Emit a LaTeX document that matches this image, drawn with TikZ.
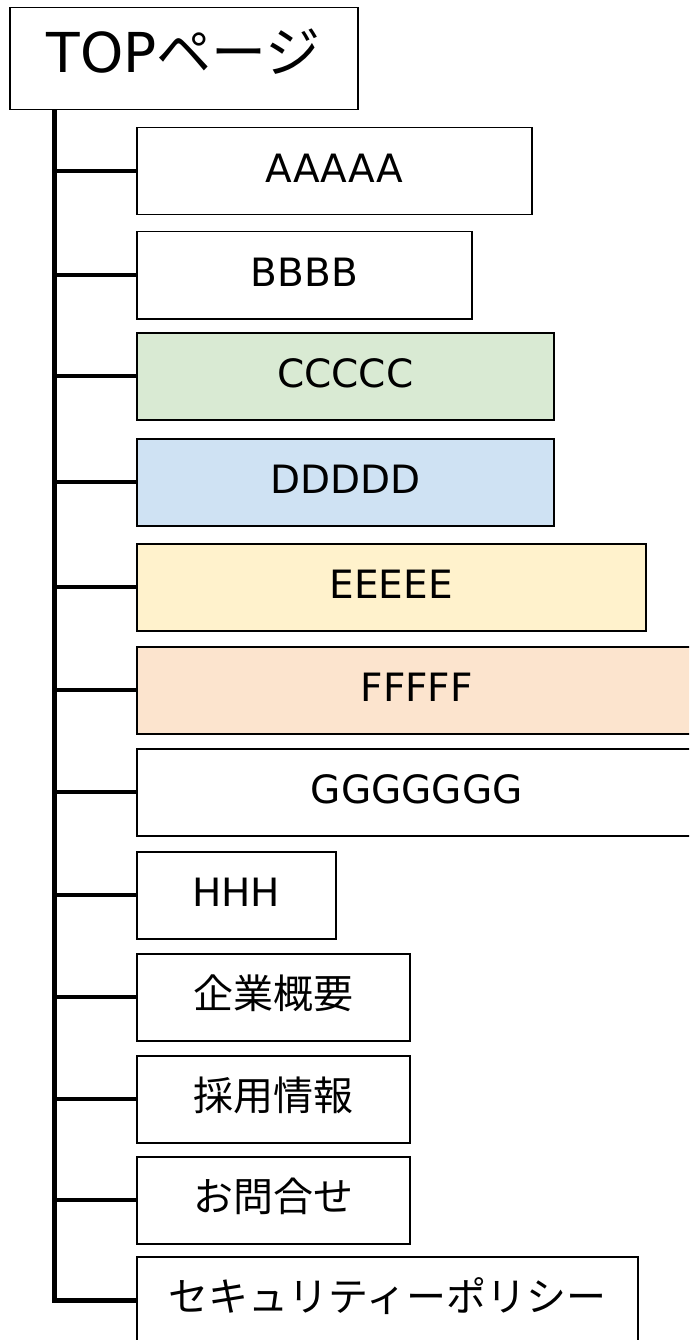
\documentclass[tikz,border=0pt]{standalone}
\usepackage{fontspec}
\setmainfont{DejaVu Sans}
\newfontfamily\jp{Noto Sans CJK JP}
\definecolor{cgreen}{RGB}{217,234,211}
\definecolor{cblue}{RGB}{207,226,243}
\definecolor{cyellow}{RGB}{255,242,204}
\definecolor{corange}{RGB}{252,228,206}
\begin{document}
\begin{tikzpicture}[x=1pt,y=-1pt,
  page/.style={draw=black,line width=1.5pt,anchor=north west,inner sep=0pt,
    minimum height=87pt,text height=30pt,text depth=8pt,
    font=\fontsize{39}{44}\selectfont},
  jpage/.style={page,font=\jp\fontsize{40}{44}\selectfont},
  topbox/.style={draw=black,line width=1.5pt,anchor=north west,inner sep=0pt,
    minimum width=348pt,minimum height=102pt,text height=42pt,text depth=14pt,
    font=\fontsize{55}{60}\selectfont},
  branch/.style={line width=4pt},
  trunkline/.style={line width=5pt,line join=miter}]
\useasboundingbox (0,0) rectangle (689,1340);
\clip (0,0) rectangle (689,1340);
\node[topbox] (top) at (9,7) {TOP{\jp ページ}};
\coordinate (tx) at (54,109);
\node[page,minimum width=395pt] (a) at (136,127) {AAAAA};
\node[page,minimum width=335pt] (b) at (136,231) {BBBB};
\node[page,minimum width=417pt,fill=cgreen] (c) at (136,332) {CCCCC};
\node[page,minimum width=417pt,fill=cblue] (d) at (136,438) {DDDDD};
\node[page,minimum width=509pt,fill=cyellow] (e) at (136,543) {EEEEE};
\node[page,minimum width=560pt,fill=corange] (f) at (136,646) {FFFFF};
\node[page,minimum width=560pt] (g) at (136,748) {GGGGGGG};
\node[page,minimum width=199pt] (h) at (136,851) {HHH};
\node[jpage,minimum width=273pt] (i) at (136,953) {企業概要};
\node[jpage,minimum width=273pt] (j) at (136,1055) {採用情報};
\node[jpage,minimum width=273pt] (k) at (136,1156) {お問合せ};
\node[jpage,minimum width=501pt] (l) at (136,1256) {セキュリティーポリシー};
\draw[trunkline] (top.south -| tx) -- (l.west -| tx) -- (l.west);
\foreach \n in {a,b,c,d,e,f,g,h,i,j,k}{
  \draw[branch] (\n.west -| tx) -- (\n.west);
}
\end{tikzpicture}
\end{document}
